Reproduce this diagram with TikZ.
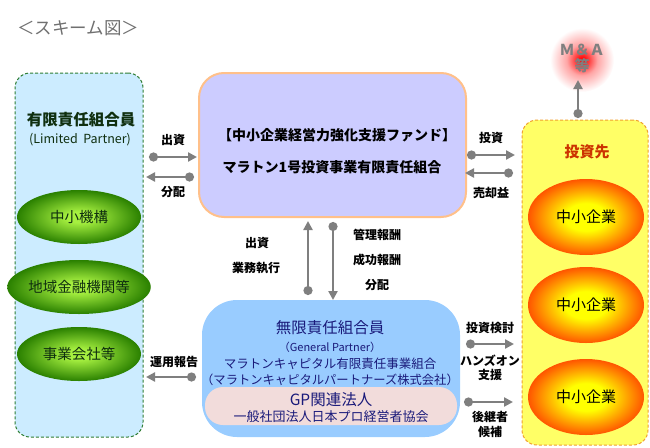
\documentclass[tikz,border=0pt]{standalone}
\usepackage{fontspec}
\setmainfont{Noto Sans CJK JP}
\usetikzlibrary{arrows.meta,shapes.geometric}
\definecolor{ttlgray}{HTML}{707070}
\definecolor{lpfill}{HTML}{CCECFF}
\definecolor{lpedge}{HTML}{2E7D32}
\definecolor{lptext}{HTML}{0F2F0F}
\definecolor{fundfill}{HTML}{CCCCFF}
\definecolor{fundedge}{HTML}{FFC08A}
\definecolor{gpfill}{HTML}{99CCFF}
\definecolor{gptext}{HTML}{1A1A7A}
\definecolor{pinkfill}{HTML}{F2DCDB}
\definecolor{invfill}{HTML}{FFFF66}
\definecolor{invedge}{HTML}{F0A030}
\definecolor{invtext}{HTML}{CC3300}
\definecolor{arrgray}{HTML}{7F7F7F}
\definecolor{gin}{HTML}{A6F040}
\definecolor{gout}{HTML}{2A8000}
\definecolor{oin}{HTML}{FFFF00}
\definecolor{oout}{HTML}{FF5500}
\pgfdeclareradialshading{greenball}{\pgfpoint{0bp}{0bp}}{color(0bp)=(gin); color(5bp)=(gin); color(25bp)=(gout); color(50bp)=(gout)}
\pgfdeclareradialshading{orangeball}{\pgfpoint{0bp}{0bp}}{color(0bp)=(oin); color(9bp)=(oin); color(25bp)=(oout); color(50bp)=(oout)}
\pgfdeclareradialshading{redglow}{\pgfpoint{0bp}{0bp}}{color(0bp)=(red); color(3bp)=(red!90); color(12bp)=(red!35); color(25bp)=(white); color(50bp)=(white)}
\tikzset{
  lbl/.style={font=\fontsize{12}{14}\selectfont\bfseries, text=black, inner sep=0pt},
  flow/.style={draw=arrgray, line width=2.6pt, {Circle[length=9pt]}-{Triangle[length=9pt,width=9pt]}},
  greenell/.style={ellipse, shading=greenball, minimum width=124pt, minimum height=54pt, inner sep=0pt,
    font=\fontsize{14.5}{16}\selectfont, text=lptext},
  orangeell/.style={ellipse, shading=orangeball, minimum width=116pt, minimum height=76pt, inner sep=0pt,
    font=\fontsize{15}{16}\selectfont, text=black}
}
\begin{document}
\begin{tikzpicture}[x=1pt,y=-1pt]
\useasboundingbox (0,0) rectangle (650,447);
% title
\node[font=\fontsize{17.5}{19}\selectfont, text=ttlgray, anchor=west, inner sep=0pt] (title) at (17,28) {＜スキーム図＞};

% left LP box
\node[draw=lpedge, dashed, dash pattern=on 3pt off 2pt, line width=1pt, fill=lpfill, rounded corners=15pt,
      minimum width=128pt, minimum height=364pt] (lp) at (79,255) {};
\node[font=\fontsize{15.5}{17}\selectfont\bfseries, text=lptext, inner sep=0pt] (lpt) at (81,120) {有限責任組合員};
\node[font=\fontsize{12.5}{14}\selectfont, text=lptext, inner sep=0pt] (lpe) at (80,140) {(Limited\ \ Partner)};
\node[greenell] (g1) at (79,217) {中小機構};
\node[greenell] (g2) at (79,287) {地域金融機関等};
\node[greenell] (g3) at (79,354) {事業会社等};

% fund box
\node[draw=fundedge, line width=2pt, fill=fundfill, rounded corners=25pt,
      minimum width=267pt, minimum height=144pt] (fund) at (332.5,145) {};
\node[font=\fontsize{14}{16}\selectfont\bfseries, inner sep=0pt] (fund1) at (337,135) {【中小企業経営力強化支援ファンド】};
\node[font=\fontsize{14}{16}\selectfont\bfseries, inner sep=0pt] (fund2) at (332,167) {マラトン1号投資事業有限責任組合};

% GP box
\node[fill=gpfill, rounded corners=35pt, minimum width=258pt, minimum height=137pt] (gp) at (331,368.5) {};
\node[font=\fontsize{15.5}{17}\selectfont, text=gptext, inner sep=0pt] (gp1) at (330,328) {無限責任組合員};
\node[font=\fontsize{11}{13}\selectfont, text=gptext, inner sep=0pt] (gp2) at (330,347) {（General Partner）};
\node[font=\fontsize{12.5}{14}\selectfont, text=gptext, inner sep=0pt] (gp3) at (330,364) {マラトンキャピタル有限責任事業組合};
\node[font=\fontsize{12.3}{14}\selectfont, text=gptext, inner sep=0pt] (gp4) at (330,380) {（マラトンキャピタルパートナーズ株式会社）};
\node[fill=pinkfill, rounded corners=18pt, minimum width=252pt, minimum height=38pt] (rel) at (331,406) {};
\node[font=\fontsize{15.5}{17}\selectfont, text=gptext, inner sep=0pt] (rel1) at (331,400) {GP関連法人};
\node[font=\fontsize{13}{15}\selectfont, text=gptext, inner sep=0pt] (rel2) at (331,417) {一般社団法人日本プロ経営者協会};

% investee box
\node[draw=invedge, dashed, dash pattern=on 3pt off 2pt, line width=1pt, fill=invfill, rounded corners=15pt,
      minimum width=126pt, minimum height=325pt] (inv) at (585,282.5) {};
\node[font=\fontsize{15}{17}\selectfont\bfseries, text=invtext, inner sep=0pt] (invt) at (587,152) {投資先};
\node[orangeell] (o1) at (586,217) {中小企業};
\node[orangeell] (o2) at (586,305) {中小企業};
\node[orangeell] (o3) at (586,397) {中小企業};

% M&A glow
\node[circle, shading=redglow, minimum size=64pt, inner sep=0pt] (glow) at (582,60) {};
\node[font=\fontsize{15}{17}\selectfont\bfseries, text=arrgray, inner sep=0pt, align=center] (ma) at (582,59)
  {Ｍ＆Ａ\\[-1pt]等};

% coordinates for arrows
\coordinate (a1s) at (149,157); \coordinate (a1e) at (197,157);
\coordinate (a2s) at (194,177); \coordinate (a2e) at (146,177);
\coordinate (a3s) at (196,377); \coordinate (a3e) at (146,377);
\coordinate (v1s) at (308,295); \coordinate (v1e) at (308,221);
\coordinate (v2s) at (333,222); \coordinate (v2e) at (333,300);
\coordinate (r1s) at (467,155); \coordinate (r1e) at (515,155);
\coordinate (r2s) at (513,173); \coordinate (r2e) at (465,173);
\coordinate (r3s) at (466,344); \coordinate (r3e) at (514,344);
\coordinate (r4s) at (464,402); \coordinate (r4e) at (513,402);
\coordinate (m1s) at (578,118); \coordinate (m1e) at (578,80);

\draw[flow] (a1s) -- (a1e);
\draw[flow] (a2s) -- (a2e);
\draw[flow] (a3s) -- (a3e);
\draw[flow] (v1s) -- (v1e);
\draw[flow] (v2s) -- (v2e);
\draw[flow] (r1s) -- (r1e);
\draw[flow] (r2s) -- (r2e);
\draw[flow] (r3s) -- (r3e);
\draw[flow] (r4s) -- (r4e);
\draw[flow] (m1s) -- (m1e);

% labels
\node[lbl] (l1) at (173,140) {出資};
\node[lbl] (l2) at (173,192) {分配};
\node[lbl] (l3) at (174,362) {運用報告};
\node[lbl] (l4) at (257,243) {出資};
\node[lbl] (l5) at (256,268) {業務執行};
\node[lbl] (l6) at (377,235) {管理報酬};
\node[lbl] (l7) at (377,260) {成功報酬};
\node[lbl] (l8) at (377,285) {分配};
\node[lbl] (l9) at (491,138) {投資};
\node[lbl] (l10) at (491,193) {売却益};
\node[lbl] (l11) at (490,328) {投資検討};
\node[lbl] (l12) at (490,361) {ハンズオン};
\node[lbl] (l13) at (490,375) {支援};
\node[lbl] (l14) at (490,417) {後継者};
\node[lbl] (l15) at (490,432) {候補};
\end{tikzpicture}
\end{document}
